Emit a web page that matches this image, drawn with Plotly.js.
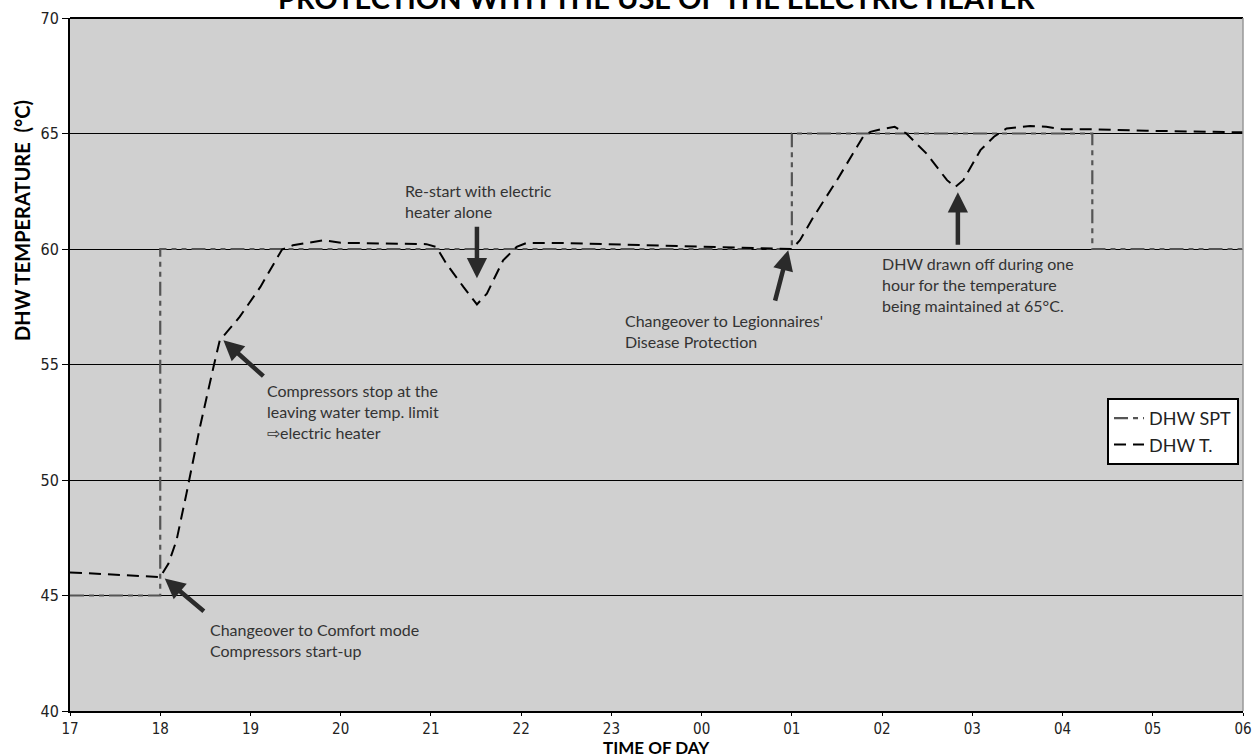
<!DOCTYPE html>
<html>
<head>
<meta charset="utf-8">
<script src="https://cdn.plot.ly/plotly-3.0.1.min.js"></script>
<style>html,body{margin:0;padding:0;background:#fff;}#chart{width:1256px;height:755px;}</style>
</head>
<body>
<div id="chart"></div>
<script>
// Hours (17 = 17:00, 24 = 00:00 next day, 30 = 06:00)
const tickVals = [17,18,19,20,21,22,23,24,25,26,27,28,29,30];
const tickText = ["17","18","19","20","21","22","23","00","01","02","03","04","05","06"];

// DHW set point
const sptHours = [17, 18, 18, 25, 25, 28.33, 28.33, 30];
const sptTemps = [45, 45, 60, 60, 65, 65, 60, 60];

// DHW temperature
const tHours = [17.0, 18.0, 18.09, 18.18, 18.29, 18.44, 18.59, 18.66, 18.74, 18.88, 19.11, 19.35, 19.47, 19.81, 20.0, 20.59, 20.95, 21.06, 21.17, 21.36, 21.51, 21.62, 21.80, 21.95, 22.06, 22.43, 23.0, 24.0, 25.0, 25.09, 25.24, 25.50, 25.79, 25.87, 25.98, 26.14, 26.27, 26.49, 26.72, 26.81, 26.90, 27.09, 27.24, 27.38, 27.64, 27.82, 28.0, 28.38, 28.93, 30.0];
const tTemps = [46.0, 45.8, 46.37, 47.38, 49.4, 52.29, 54.89, 56.05, 56.41, 57.06, 58.36, 59.98, 60.16, 60.38, 60.27, 60.24, 60.21, 60.09, 59.37, 58.36, 57.6, 58.07, 59.51, 60.09, 60.26, 60.26, 60.2, 60.1, 60.0, 60.38, 61.39, 62.98, 64.86, 65.07, 65.18, 65.29, 65.0, 64.14, 62.98, 62.68, 62.98, 64.28, 64.86, 65.22, 65.32, 65.29, 65.18, 65.18, 65.12, 65.05];

const seriesNames = ["DHW SPT", "DHW T."];

const txtFont = {family: "Lato, 'Open Sans', sans-serif", size: 16, color: "#333"};
const tickFont = {family: "'Liberation Sans Narrow', 'DejaVu Sans Condensed', sans-serif", size: 16, color: "#222"};

const traces = [
  {x: sptHours, y: sptTemps, name: seriesNames[0], mode: "lines",
   line: {color: "#555", width: 2.2, dash: "14px,5px,5px,5px,5px,5px"}},
  {x: tHours, y: tTemps, name: seriesNames[1], mode: "lines",
   line: {color: "#000", width: 2, dash: "12px,7px"}}
];

function arrow(hx, hy, tx, ty) {
  return {x: hx, y: hy, ax: tx, ay: ty, xref: "x", yref: "y", axref: "x", ayref: "y",
    text: "", showarrow: true, arrowhead: 2, arrowsize: 0.9, arrowwidth: 4.5, arrowcolor: "#2a2a2a"};
}
function note(x, y, text) {
  return {x: x, y: y, xref: "x", yref: "y", text: text, showarrow: false,
    xanchor: "left", yanchor: "top", align: "left", font: txtFont};
}

const layout = {
  width: 1256, height: 755,
  margin: {l: 70, r: 13, t: 18, b: 44},
  paper_bgcolor: "#fff",
  plot_bgcolor: "#d0d0d0",
  showlegend: true,
  legend: {x: 0.9966, xanchor: "right", y: 0.4517, yanchor: "top",
    bgcolor: "#fff", bordercolor: "#000", borderwidth: 2,
    font: {family: "Lato, sans-serif", size: 18, color: "#222"}},
  xaxis: {range: [17, 30], tickvals: tickVals, ticktext: tickText,
    showgrid: false, zeroline: false, showline: true, linecolor: "#000", linewidth: 2,
    ticks: "outside", ticklen: 3, tickcolor: "#000",
    tickfont: {family: tickFont.family, size: 15, color: "#222"}},
  yaxis: {range: [40, 70], tickvals: [40,45,50,55,60,65,70],
    showgrid: true, gridcolor: "#000", gridwidth: 1, zeroline: false,
    showline: true, linecolor: "#000", linewidth: 2,
    ticks: "outside", ticklen: 6, tickcolor: "#000", tickfont: tickFont},
  shapes: [
    {type: "line", xref: "paper", yref: "paper", x0: 0, x1: 1, y0: 1, y1: 1, line: {color: "#000", width: 2}},
    {type: "line", xref: "paper", yref: "paper", x0: 1, x1: 1, y0: 0, y1: 1, line: {color: "#999", width: 1.5}}
  ],
  annotations: [
    {xref: "paper", yref: "paper", x: 0.5, y: 1.001, xanchor: "center", yanchor: "bottom",
     text: "<b>PROTECTION WITH THE USE OF THE ELECTRIC HEATER</b>", showarrow: false,
     font: {family: "Lato, sans-serif", size: 29, color: "#000"}},
    {xref: "paper", yref: "paper", x: -0.041, y: 0.7085, xanchor: "center", yanchor: "middle",
     textangle: -90, text: "<b>DHW TEMPERATURE  (°C)</b>", showarrow: false,
     font: {family: "Lato, sans-serif", size: 20, color: "#000"}},
    {xref: "paper", yref: "paper", x: 0.5, y: -0.053, xanchor: "center", yanchor: "middle",
     text: "<b>TIME OF DAY</b>", showarrow: false,
     font: {family: "Lato, sans-serif", size: 17, color: "#000"}},
    arrow(18.05, 45.74, 18.5, 44.26),
    arrow(18.70, 56.05, 19.16, 54.44),
    arrow(21.51, 58.73, 21.51, 61.03),
    arrow(24.96, 59.95, 24.81, 57.7),
    arrow(26.84, 62.46, 26.84, 60.12),
    note(18.53, 44.02, "Changeover to Comfort mode<br>Compressors start-up"),
    note(19.16, 54.38, "Compressors stop at the<br>leaving water temp. limit<br>⇨electric heater"),
    note(20.69, 63.04, "Re-start with electric<br>heater alone"),
    note(23.13, 57.41, "Changeover to Legionnaires'<br>Disease Protection"),
    note(25.98, 59.88, "DHW drawn off during one<br>hour for the temperature<br>being maintained at 65°C.")
  ]
};

Plotly.newPlot("chart", traces, layout, {displayModeBar: false, staticPlot: true});
</script>
</body>
</html>
